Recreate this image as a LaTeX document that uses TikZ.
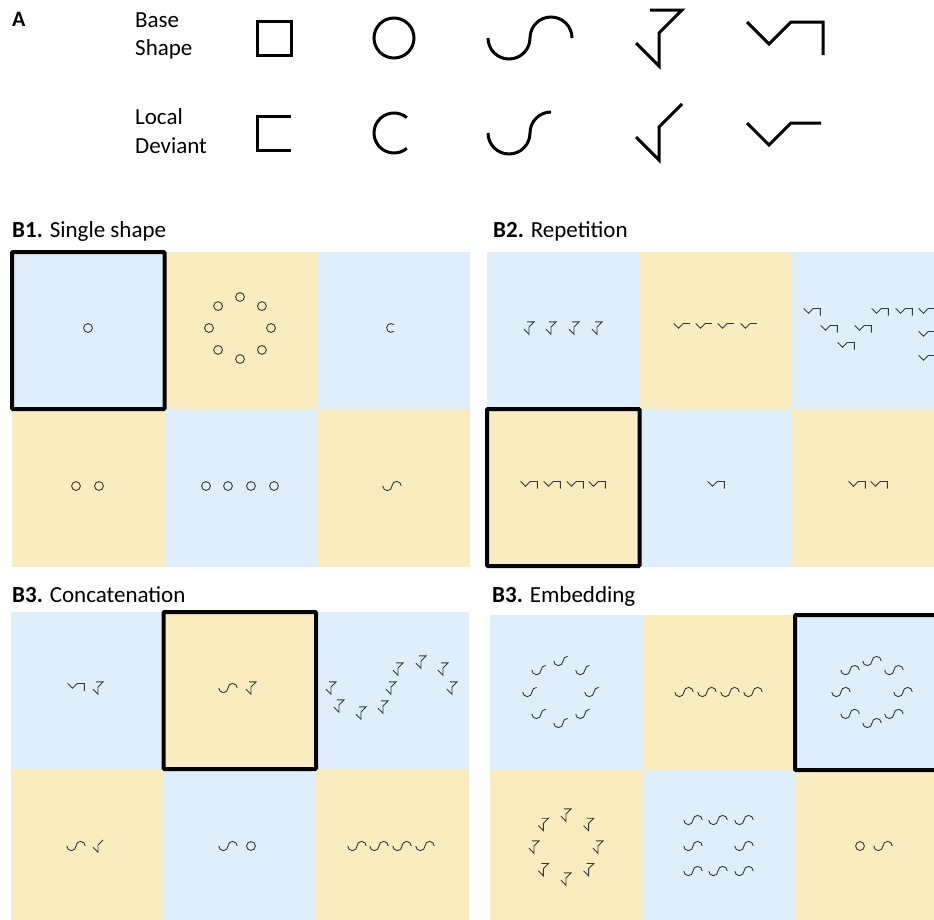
\documentclass[tikz,border=0pt]{standalone}
\usepackage{fontspec}
\setmainfont{Carlito}
\definecolor{cellblue}{RGB}{222,238,251}
\definecolor{cellyellow}{RGB}{251,236,191}
\definecolor{glyphgray}{RGB}{55,55,60}

\tikzset{
  sq/.pic={\draw (-17,-17) rectangle (17,17);},
  sqdev/.pic={\draw (17,-17) -- (-17,-17) -- (-17,17) -- (17,17);},
  circ/.pic={\draw (0,0) circle (20);},
  cdev/.pic={\draw (50:20) arc (50:310:20);},
  sbase/.pic={\draw (-42,0) arc (180:0:21) arc (180:360:21);},
  sdev/.pic={\draw (-42,0) arc (180:0:21) arc (180:270:21);},
  sevn/.pic={\draw (-9,-28) -- (23,-28) -- (0,-5) -- (0,28) -- (-23,5);},
  sevndev/.pic={\draw (23,-28) -- (0,-5) -- (0,28) -- (-23,5);},
  vsq/.pic={\draw (-38,-16) -- (-16,6) -- (6,-16) -- (38,-16) -- (38,17);},
  vsqdev/.pic={\draw (-38,-16) -- (-16,6) -- (6,-16) -- (36,-16);}
}

\begin{document}
\begin{tikzpicture}[x=1pt, y=-1pt,
    lbl/.style={anchor=base west, inner sep=0pt, font=\fontsize{23}{28}\selectfont},
    big/.style={line width=3pt},
    glyph/.style={scale=0.22, line width=0.9pt, color=glyphgray},
    pick/.style={line width=4pt, rounded corners=1pt}]
    \useasboundingbox (0,0) rectangle (934,919);
    \clip (0,0) rectangle (934,919);

    % A: base shapes and local deviants
    \node[lbl, font=\fontsize{22}{26}\selectfont\bfseries] (lblA) at (12,26) {A};
    \node[lbl] (lblBase) at (135,27) {Base};
    \node[lbl] (lblShape) at (135,55) {Shape};
    \node[lbl] (lblLocal) at (135,124) {Local};
    \node[lbl] (lblDeviant) at (135,153) {Deviant};

    \pic[big] at (274,38) {sq};
    \pic[big] at (394,38) {circ};
    \pic[big] at (530,38) {sbase};
    \pic[big] at (659,38) {sevn};
    \pic[big] at (785,38) {vsq};

    \pic[big] at (274,133) {sqdev};
    \pic[big] at (394,133) {cdev};
    \pic[big] at (530,133) {sdev};
    \pic[big] at (659,132) {sevndev};
    \pic[big] at (785,139) {vsqdev};

    % panel titles
    \node[lbl] (titleBone) at (12,237) {\textbf{B1.} Single shape};
    \node[lbl] (titleBtwo) at (493,237) {\textbf{B2.} Repetition};
    \node[lbl] (titleConcat) at (12,602) {\textbf{B3.} Concatenation};
    \node[lbl] (titleEmbed) at (492,602) {\textbf{B3.} Embedding};

    % checkerboard cells
    \foreach \gx/\gy/\ch in {12/252/157, 487/252/157, 11/612/157, 490/615/155}
      \foreach \c/\r/\col in {0/0/cellblue, 1/0/cellyellow, 2/0/cellblue, 0/1/cellyellow, 1/1/cellblue, 2/1/cellyellow}
        \fill[\col] (\gx+\c*152.5, \gy+\r*\ch) rectangle ++(153,\ch+0.5);

    % B1
    \pic[glyph] at (88,328) {circ};
    \foreach \a in {0,45,...,315}
      \pic[glyph] at ([shift={(\a:31)}]240,328) {circ};
    \pic[glyph] at (391,328) {cdev};
    \foreach \px in {76,99}
      \pic[glyph] at (\px,486) {circ};
    \foreach \px in {206,228,251,274}
      \pic[glyph] at (\px,486) {circ};
    \pic[glyph] at (392,486) {sbase};

    % B2
    \foreach \px in {529,551,574,597}
      \pic[glyph] at (\px,328) {sevn};
    \foreach \px in {682,704,726,749}
      \pic[glyph] at (\px,327) {vsqdev};
    \foreach \px/\py in {812/312,829/329,846/346,863/329,880/312,904/312,927/312,927/335,927/359}
      \pic[glyph] at (\px,\py) {vsq};
    \foreach \px in {529,552,575,597}
      \pic[glyph] at (\px,485) {vsq};
    \pic[glyph] at (716,485) {vsq};
    \foreach \px in {857,879}
      \pic[glyph] at (\px,485) {vsq};

    % B3 concatenation
    \pic[glyph] at (76,687) {vsq};
    \pic[glyph] at (98,688) {sevn};
    \pic[glyph] at (228,688) {sbase};
    \pic[glyph] at (251,688) {sevn};
    \foreach \px/\py in {331/688,339/706,361/713,383/707,391/688,398/669,421/662,443/669,452/688}
      \pic[glyph] at (\px,\py) {sevn};
    \pic[glyph] at (76,846) {sbase};
    \pic[glyph] at (98,846) {sevndev};
    \pic[glyph] at (228,846) {sbase};
    \pic[glyph] at (251,846) {circ};
    \foreach \px in {357,379,402,425}
      \pic[glyph] at (\px,846) {sbase};

    % B3 embedding
    \foreach \a in {0,45,...,315}
      \pic[glyph] at ([shift={(\a:31)}]563,692) {sdev};
    \foreach \px in {684,707,730,753}
      \pic[glyph] at (\px,692) {sbase};
    \foreach \a in {0,45,...,315}
      \pic[glyph] at ([shift={(\a:31)}]872,692) {sbase};
    \foreach \a in {0,45,...,315}
      \pic[glyph] at ([shift={(\a:32)}]566,847) {sevn};
    \foreach \px/\py in {693/820,718/820,744/820,693/846,744/846,693/871,718/871,744/871}
      \pic[glyph] at (\px,\py) {sbase};
    \pic[glyph] at (860,846) {circ};
    \pic[glyph] at (883,846) {sbase};

    % chosen cells
    \draw[pick] (12,252) rectangle (164.5,409);
    \draw[pick] (487,409) rectangle (639.5,566);
    \draw[pick] (163.5,612) rectangle (316,769);
    \draw[pick] (795,615) rectangle (950,770);
\end{tikzpicture}
\end{document}
